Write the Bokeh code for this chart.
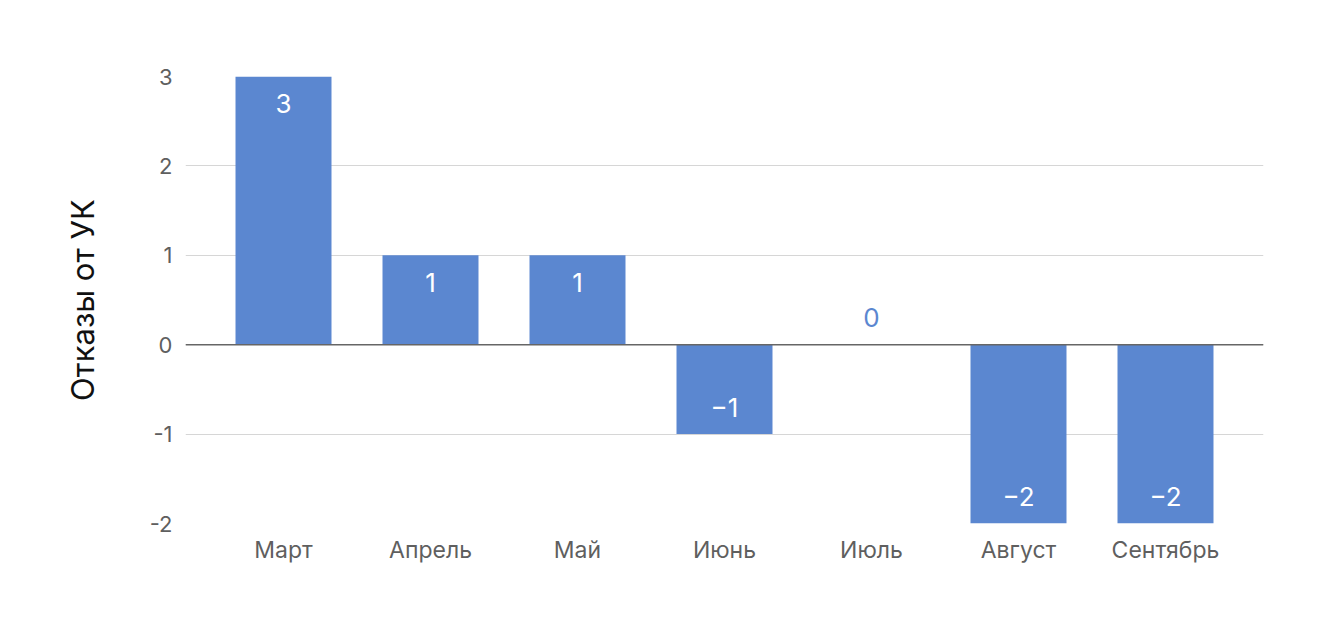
from bokeh.plotting import figure
from bokeh.models import ColumnDataSource, FactorRange, Range1d, FixedTicker, Span
from bokeh.core.properties import value
from bokeh.embed import file_html
from bokeh.resources import INLINE

months = ["Март", "Апрель", "Май", "Июнь", "Июль", "Август", "Сентябрь"]
refusals = [3, 1, 1, -1, 0, -2, -2]
y_ticks = [-2, -1, 0, 1, 2, 3]
y_tick_labels = {-2: "-2", -1: "-1", 0: "0", 1: "1", 2: "2", 3: "3"}
y_title = "Отказы от УК"

BAR = "#5b87d0"
FONT = "Inter"

labels = [("−" + str(abs(v))) if v < 0 else str(v) for v in refusals]
offsets = [27 if v > 0 else -27 for v in refusals]
colors = ["white" if v != 0 else BAR for v in refusals]

src = ColumnDataSource(dict(m=months, v=refusals, lab=labels, off=offsets, col=colors))

p = figure(
    width=1324, height=609,
    x_range=FactorRange(*months, range_padding=0.1667, range_padding_units="absolute"),
    y_range=Range1d(-2, 3),
    output_backend="svg", toolbar_location=None,
    min_border_left=185, min_border_right=61, min_border_top=76, min_border_bottom=86,
)
p.outline_line_color = None
p.background_fill_color = "white"
p.border_fill_color = "white"

p.vbar(x="m", top="v", bottom=0, width=0.653, source=src, color=BAR, line_color=None)
p.text(x="m", y="v", text="lab", y_offset="off", source=src, text_color="col",
       text_align="center", text_baseline="middle",
       text_font=value(FONT), text_font_size="26px")

p.add_layout(Span(location=0, dimension="width", line_color="#666666", line_width=1.5))

p.xgrid.grid_line_color = None
p.ygrid.grid_line_color = "#d6d6d6"
p.ygrid.grid_line_width = 1
p.ygrid.ticker = FixedTicker(ticks=y_ticks)

p.yaxis.ticker = FixedTicker(ticks=y_ticks)
p.yaxis.major_label_overrides = y_tick_labels
p.yaxis.axis_line_color = None
p.yaxis.major_tick_line_color = None
p.yaxis.minor_tick_line_color = None
p.yaxis.major_label_text_font = FONT
p.yaxis.major_label_text_font_size = "22px"
p.yaxis.major_label_text_color = "#5f5f5f"
p.yaxis.major_label_standoff = 7
p.yaxis.axis_label = y_title
p.yaxis.axis_label_text_font = FONT
p.yaxis.axis_label_text_font_size = "31px"
p.yaxis.axis_label_text_font_style = "normal"
p.yaxis.axis_label_text_color = "#111111"
p.yaxis.axis_label_standoff = 46

p.xaxis.axis_line_color = None
p.xaxis.major_tick_line_color = None
p.xaxis.minor_tick_line_color = None
p.xaxis.major_label_text_font = FONT
p.xaxis.major_label_text_font_size = "23px"
p.xaxis.major_label_text_color = "#5f5f5f"
p.xaxis.major_label_standoff = 6

open("out.html", "w").write(file_html(p, INLINE))
